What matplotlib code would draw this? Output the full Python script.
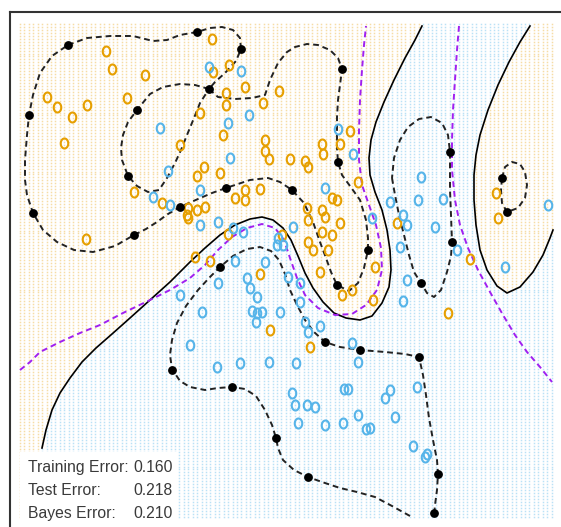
import numpy as np
import matplotlib.pyplot as plt
from matplotlib.path import Path
from matplotlib.patches import Rectangle

# mixture data (x1 to the right, x2 measured downward from the top of the panel)
orange_pts = [(106, 51), (112, 69), (145, 75), (47, 97), (57, 107), (72, 117), (87, 105), (127, 98),
              (64, 143), (180, 145), (212, 39), (229, 65), (213, 72), (245, 87), (226, 93), (226, 105),
              (279, 91), (263, 103), (200, 113), (223, 135), (265, 140), (265, 151), (269, 159),
              (290, 159), (305, 161), (308, 167), (322, 144), (323, 154), (340, 144), (350, 131),
              (204, 167), (197, 176), (220, 173), (134, 192), (86, 239), (162, 203), (187, 215),
              (245, 190), (260, 189), (235, 198), (245, 200), (188, 208), (197, 210), (205, 207),
              (188, 218), (307, 208), (322, 210), (332, 198), (337, 200), (325, 217), (340, 223),
              (308, 220), (322, 232), (332, 235), (308, 242), (313, 250), (328, 250), (282, 235),
              (228, 234), (210, 261), (260, 274), (320, 272), (342, 295), (352, 290), (270, 330),
              (310, 347), (358, 182), (195, 257), (496, 193), (498, 218), (397, 223), (470, 259),
              (448, 313), (375, 267), (373, 300)]

blue_pts = [(160, 128), (168, 171), (209, 67), (241, 71), (249, 115), (228, 123), (230, 158),
            (338, 129), (353, 154), (421, 177), (153, 197), (170, 205), (180, 295), (200, 190),
            (325, 188), (200, 225), (218, 222), (233, 228), (243, 232), (293, 227), (278, 238),
            (283, 245), (277, 245), (235, 261), (265, 262), (218, 283), (247, 278), (250, 288),
            (257, 297), (288, 277), (300, 283), (202, 312), (252, 311), (257, 313), (262, 312),
            (256, 322), (280, 312), (300, 302), (305, 322), (308, 332), (320, 326), (190, 345),
            (352, 343), (390, 202), (418, 200), (443, 199), (403, 215), (407, 225), (435, 227),
            (400, 247), (457, 250), (407, 280), (403, 301), (372, 218), (505, 267), (548, 205),
            (217, 367), (240, 363), (269, 362), (296, 363), (292, 393), (295, 405), (307, 405),
            (315, 407), (298, 423), (325, 425), (344, 389), (348, 389), (343, 423), (358, 415),
            (366, 429), (358, 362), (390, 390), (385, 398), (395, 417), (417, 387), (413, 446),
            (425, 457), (427, 454), (370, 428)]

# points lying on the margins
support_pts = [(68, 45), (29, 115), (137, 110), (128, 176), (197, 32), (241, 49), (209, 89),
               (342, 69), (338, 162), (33, 213), (134, 235), (180, 207), (226, 188), (292, 190),
               (368, 250), (337, 285), (220, 267), (325, 342), (360, 350), (502, 178), (507, 212),
               (452, 242), (421, 283), (450, 152), (232, 387), (276, 438), (308, 477), (419, 357),
               (438, 474), (434, 513), (172, 370)]

# decision boundary f(x) = 0
boundary_left = [(42, 448), (46, 430), (52, 410), (60, 393), (70, 378), (82, 362), (96, 348),
                 (112, 334), (130, 318), (150, 300), (170, 282), (190, 262), (205, 248), (220, 235),
                 (235, 225), (250, 219), (262, 217), (273, 220), (283, 228), (291, 240), (298, 256),
                 (305, 273), (313, 288), (323, 302), (334, 313), (346, 318), (360, 320), (372, 316),
                 (382, 303), (389, 287), (391, 270), (390, 250), (387, 230), (382, 210), (375, 192),
                 (370, 175), (369, 158), (371, 140), (376, 122), (384, 102), (394, 80), (405, 58),
                 (415, 40), (422, 26)]
boundary_right = [(530, 26), (520, 42), (509, 62), (498, 85), (488, 110), (480, 135), (476, 155),
                  (474, 175), (474, 200), (476, 225), (480, 250), (487, 270), (497, 286), (507, 293),
                  (520, 287), (533, 272), (543, 255), (550, 238), (553, 230)]

# margins f(x) = +1 / -1
margin_outer = [(68, 45), (87, 38), (110, 36), (133, 36), (153, 41), (167, 40), (180, 35), (197, 32),
                (210, 28), (222, 27), (233, 30), (240, 38), (241, 49), (236, 61), (225, 73), (215, 82),
                (209, 89), (218, 97), (235, 99), (252, 98), (265, 95), (270, 80), (278, 63), (287, 52),
                (295, 47), (307, 44), (318, 45), (330, 50), (338, 58), (342, 69), (340, 85), (338, 100),
                (337, 117), (337, 133), (337, 148), (338, 162), (342, 175), (350, 186), (360, 200),
                (366, 220), (368, 238), (368, 250), (364, 268), (358, 283), (349, 291), (337, 285),
                (331, 272), (326, 258), (320, 242), (313, 222), (304, 203), (292, 190), (280, 182),
                (268, 178), (250, 180), (238, 184), (226, 188), (212, 193), (198, 199), (180, 207),
                (168, 214), (157, 222), (146, 229), (134, 235), (115, 246), (93, 252), (74, 250),
                (57, 242), (43, 230), (33, 213), (27, 195), (25, 180), (25, 160), (27, 135), (29, 115),
                (33, 95), (40, 73), (52, 56), (68, 45)]
margin_hole = [(209, 89), (195, 85), (180, 84), (163, 87), (150, 94), (137, 110), (128, 122),
               (123, 135), (121, 148), (122, 160), (128, 176), (137, 186), (148, 192), (159, 190),
               (167, 178), (175, 163), (181, 150), (187, 135), (194, 118), (200, 103), (209, 89)]
margin_small = [(502, 178), (505, 167), (512, 162), (520, 164), (525, 172), (527, 185), (525, 198),
                (518, 208), (507, 212), (502, 203), (501, 190), (502, 178)]
margin_lower = [(410, 516), (392, 506), (375, 497), (357, 492), (340, 488), (322, 482), (308, 477),
                (294, 470), (283, 460), (278, 448), (276, 438), (272, 425), (265, 410), (256, 396),
                (245, 389), (232, 387), (218, 388), (205, 390), (190, 387), (180, 381), (172, 369),
                (170, 355), (172, 340), (177, 323), (186, 306), (198, 290), (210, 277), (220, 267),
                (233, 256), (247, 249), (260, 247), (271, 251), (279, 260), (285, 274), (290, 290),
                (297, 305), (305, 320), (314, 332), (325, 342), (340, 347), (360, 350), (385, 352),
                (405, 354), (419, 357), (423, 375), (426, 395), (429, 418), (433, 440), (437, 460),
                (438, 474), (437, 490), (435, 505), (434, 516)]
margin_mid = [(392, 178), (395, 195), (399, 215), (404, 235), (409, 255), (414, 272), (421, 283),
              (427, 293), (434, 297), (441, 290), (447, 272), (451, 256), (452, 242), (451, 215),
              (450, 190), (450, 170), (450, 152), (448, 135), (442, 123), (431, 117), (419, 119),
              (408, 127), (400, 140), (394, 158), (392, 178)]

# Bayes decision boundary
bayes_left = [(20, 370), (30, 362), (40, 352), (60, 342), (80, 333), (100, 325), (123, 313),
              (150, 300), (170, 290), (190, 278), (205, 265), (218, 250), (232, 237), (247, 228),
              (262, 224), (275, 228), (284, 240), (290, 258), (297, 278), (305, 295), (318, 308),
              (335, 315), (352, 314), (366, 305), (377, 290), (382, 270), (381, 248), (376, 225),
              (369, 205), (362, 185), (359, 160), (359, 130), (360, 100), (362, 70), (364, 45),
              (366, 26)]
bayes_right = [(459, 26), (457, 50), (455, 80), (453, 110), (452, 140), (452, 170), (455, 200),
               (460, 225), (468, 248), (478, 270), (490, 292), (503, 315), (515, 335), (527, 352),
               (540, 367), (552, 382)]

labels = ['Training Error:', 'Test Error:', 'Bayes Error:']
errors = [0.160, 0.218, 0.210]

ORANGE = '#E69F00'
BLUE = '#56B4E9'
PURPLE = '#A020F0'

fig = plt.figure(figsize=(5.61, 5.27), dpi=100)
ax = fig.add_axes([9.5 / 561, -33 / 527, 590.5 / 561, 548 / 527])
ax.set_xlim(9.5, 600)
ax.set_ylim(560, 12)
ax.set_xticks([])
ax.set_yticks([])
for side in ['left', 'top']:
    ax.spines[side].set_color('#333333')
    ax.spines[side].set_linewidth(1.5)

# background lattice coloured by the predicted class
gx, gy = np.meshgrid(np.arange(20, 554, 4.43), np.arange(24, 517, 2.95))
grid = np.column_stack([gx.ravel(), gy.ravel()])
left_region = Path(boundary_left + [(430, 0), (0, 0), (0, 600), (40, 600)])
right_region = Path(boundary_right + [(600, 230), (600, 0), (535, 0)])
is_orange = left_region.contains_points(grid) | right_region.contains_points(grid)
ax.plot(grid[is_orange, 0], grid[is_orange, 1], 's', ms=1.1, mew=0, color=ORANGE, alpha=0.35, zorder=1)
ax.plot(grid[~is_orange, 0], grid[~is_orange, 1], 's', ms=1.1, mew=0, color=BLUE, alpha=0.4, zorder=1)


def curve(pts, **kw):
    p = np.array(pts)
    ax.plot(p[:, 0], p[:, 1], **kw)


for c in [boundary_left, boundary_right]:
    curve(c, color='black', lw=1.2, zorder=3)
for c in [margin_outer, margin_hole, margin_small, margin_lower, margin_mid]:
    curve(c, color='#222222', lw=1.4, ls=(0, (3, 2)), zorder=3)
for c in [bayes_left, bayes_right]:
    curve(c, color=PURPLE, lw=1.4, ls=(0, (3, 2)), zorder=3)

# hollow "o" glyph-like marker
t = np.linspace(0, 2 * np.pi, 40)
oval = Path(np.column_stack([0.75 * np.cos(t), np.sin(t)]), closed=True)
o = np.array(orange_pts)
b = np.array(blue_pts)
ax.plot(o[:, 0], o[:, 1], ls='none', marker=oval, ms=7.2, mfc='none', mec=ORANGE, mew=1.5, zorder=4)
ax.plot(b[:, 0], b[:, 1], ls='none', marker=oval, ms=7.2, mfc='none', mec=BLUE, mew=1.5, zorder=4)
s = np.array(support_pts)
ax.plot(s[:, 0], s[:, 1], 'o', ms=5.3, color='black', zorder=5)

ax.add_patch(Rectangle((20, 452), 158, 80, facecolor='white', edgecolor='none', zorder=6))
for i, (lab, err) in enumerate(zip(labels, errors)):
    yb = 472 + 23 * i
    ax.text(28, yb, lab, fontsize=11.3, family='Liberation Sans', color='#3a3a3a', va='baseline', zorder=7)
    ax.text(173, yb, f'{err:.3f}', fontsize=11.3, family='Liberation Sans', color='#3a3a3a',
            ha='right', va='baseline', zorder=7)

fig.savefig('out.png', dpi=100)
